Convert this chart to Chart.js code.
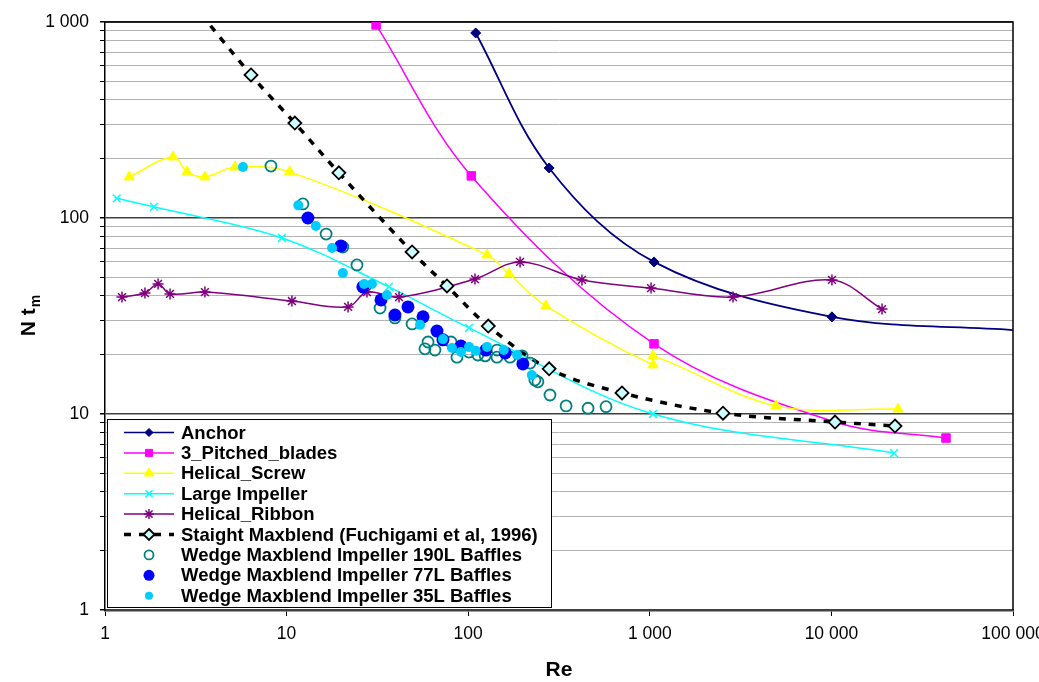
<!DOCTYPE html>
<html>
<head>
<meta charset="utf-8">
<title>N tm vs Re</title>
<script src="https://cdn.jsdelivr.net/npm/chart.js@4.4.0/dist/chart.umd.min.js"></script>
<style>
  html, body { margin: 0; padding: 0; background: #fff; overflow: hidden; }
  #wrap { width: 1039px; height: 682px; }
</style>
</head>
<body>
<div id="wrap"><canvas id="myChart" width="1039" height="682"></canvas></div>
<script>
// values (Re, N.tm)
const anchorRe = [110, 279, 1055, 10070, 100000];
const anchorNtm = [879, 180, 59.7, 31.3, 26.8];

const pitchedRe = [31.1, 104, 1055, 10470, 42750];
const pitchedNtm = [966, 164, 22.8, 9.1, 7.54];

const screwRe = [1.36, 2.37, 2.83, 3.55, 5.2, 10.4, 127, 168, 268, 1042, 1042, 4955, 23270];
const screwNtm = [162, 205, 172, 162, 182, 172, 64.8, 51.8, 35.6, 17.8, 19.8, 11.0, 10.6];

const largeRe = [1.16, 1.86, 9.43, 36.6, 101, 1042, 22130];
const largeNtm = [126, 114, 79.1, 44.5, 27.5, 10.0, 6.32];

const ribbonRe = [1.24, 1.66, 1.96, 2.28, 3.55, 10.7, 21.8, 27.7, 41.6, 109, 193, 423, 1016, 2872, 10070, 19000];
const ribbonNtm = [39.5, 41.4, 46.1, 41.0, 41.9, 37.7, 35.2, 41.9, 39.5, 48.8, 59.7, 48.3, 43.9, 39.5, 48.3, 34.3];

const straightRe = [2.1, 6.37, 11.1, 19.4, 49.1, 76.4, 129, 279, 703, 2530, 10470, 22400];
const straightNtm = [1900, 537, 305, 170, 67.1, 45.0, 28.1, 17.0, 12.8, 10.1, 9.1, 8.68];

const wedge190Re = [8.2, 12.3, 16.5, 20.4, 24.4, 32.7, 39.5, 49.1, 60.1, 57.8, 65.6, 80.4, 86.7, 101, 113, 124, 144, 144, 170, 198, 219, 233, 242, 282, 346, 457, 574];
const wedge190Ntm = [184, 118, 82.8, 71.1, 57.6, 34.7, 30.9, 28.8, 23.3, 21.5, 21.2, 23.3, 19.5, 20.7, 20.0, 19.8, 21.2, 19.5, 19.5, 19.8, 18.2, 14.9, 14.6, 12.5, 11.0, 10.7, 10.9];

const wedge77Re = [13.1, 19.9, 26.3, 33.1, 39.5, 46.6, 56.4, 67.3, 72.6, 91.2, 125, 160, 200];
const wedge77Ntm = [100, 72.0, 44.5, 38.2, 32.0, 35.2, 31.3, 26.5, 23.9, 22.2, 21.2, 20.5, 18.0];

const wedge35Re = [5.75, 11.6, 14.5, 17.8, 20.4, 26.7, 29.5, 35.7, 54.3, 72.6, 81.4, 91.2, 101, 110, 127, 157, 186, 224];
const wedge35Ntm = [182, 116, 91.0, 70.3, 52.4, 46.1, 46.1, 40.5, 28.5, 24.1, 21.7, 20.7, 22.0, 21.0, 22.0, 21.2, 20.0, 15.8];

const xTicks = [1, 10, 100, 1000, 10000, 100000];

const FONT = '"Liberation Sans", Arial, sans-serif';

function pts(xs, ys) {
  return xs.map((x, i) => ({ x: x, y: ys[i] }));
}

function fmt(v) {
  return String(Math.round(v)).replace(/\B(?=(\d{3})+(?!\d))/g, ' ');
}

function isDecade(v) {
  const l = Math.log10(v);
  return Math.abs(l - Math.round(l)) < 1e-9;
}

function drawMarker(ctx, style, x, y, r, fill, stroke, lw) {
  ctx.beginPath();
  if (style === 'circle') {
    ctx.arc(x, y, r, 0, Math.PI * 2);
  } else if (style === 'rect') {
    ctx.rect(x - r * 0.707, y - r * 0.707, r * 1.414, r * 1.414);
  } else if (style === 'rectRot') {
    ctx.moveTo(x, y - r); ctx.lineTo(x + r, y); ctx.lineTo(x, y + r); ctx.lineTo(x - r, y); ctx.closePath();
  } else if (style === 'triangle') {
    ctx.moveTo(x, y - r); ctx.lineTo(x + r * 0.866, y + r * 0.5); ctx.lineTo(x - r * 0.866, y + r * 0.5); ctx.closePath();
  } else {
    const d = r * 0.707;
    ctx.moveTo(x - d, y - d); ctx.lineTo(x + d, y + d);
    ctx.moveTo(x + d, y - d); ctx.lineTo(x - d, y + d);
    if (style === 'star') {
      ctx.moveTo(x, y - r); ctx.lineTo(x, y + r);
      ctx.moveTo(x - r, y); ctx.lineTo(x + r, y);
    }
  }
  if (fill && (style === 'circle' || style === 'rect' || style === 'rectRot' || style === 'triangle')) {
    ctx.fillStyle = fill;
    ctx.fill();
  }
  if (stroke && lw) {
    ctx.strokeStyle = stroke;
    ctx.lineWidth = lw;
    ctx.stroke();
  }
}

// legend box sitting inside the plot, bottom left
const boxLegend = {
  id: 'boxLegend',
  afterDatasetsDraw(chart) {
    const ctx = chart.ctx;
    ctx.save();
    ctx.fillStyle = '#fff';
    ctx.fillRect(107, 419, 444, 188);
    ctx.strokeStyle = '#000';
    ctx.lineWidth = 1;
    ctx.strokeRect(107.5, 419.5, 444, 188);
    chart.data.datasets.forEach((ds, i) => {
      const y = 432.5 + i * 20.4;
      if (ds.showLine !== false) {
        ctx.beginPath();
        ctx.strokeStyle = ds.borderColor;
        ctx.lineWidth = ds.borderDash ? 3.5 : 1.5;
        ctx.setLineDash(ds.borderDash || []);
        ctx.moveTo(124, y);
        ctx.lineTo(174, y);
        ctx.stroke();
        ctx.setLineDash([]);
      }
      drawMarker(ctx, ds.pointStyle, 149, y, ds.legendRadius, ds.pointBackgroundColor, ds.pointBorderColor, ds.pointBorderWidth);
      ctx.fillStyle = '#000';
      ctx.font = 'bold 18.5px ' + FONT;
      ctx.textAlign = 'left';
      ctx.textBaseline = 'middle';
      ctx.fillText(ds.label, 181, y + 1);
    });
    ctx.restore();
  }
};

// top/right frame of the plot area
const frame = {
  id: 'frame',
  beforeDatasetsDraw(chart) {
    const a = chart.chartArea;
    const ctx = chart.ctx;
    ctx.save();
    ctx.strokeStyle = '#000';
    ctx.lineWidth = 1.5;
    ctx.beginPath();
    ctx.moveTo(a.left, a.top);
    ctx.lineTo(a.right, a.top);
    ctx.lineTo(a.right, a.bottom);
    ctx.stroke();
    ctx.restore();
  }
};

// axis titles (with the subscript m)
const axisTitles = {
  id: 'axisTitles',
  afterDraw(chart) {
    const a = chart.chartArea;
    const ctx = chart.ctx;
    ctx.save();
    ctx.fillStyle = '#000';
    ctx.textBaseline = 'alphabetic';
    ctx.font = 'bold 21px ' + FONT;
    ctx.textAlign = 'center';
    ctx.fillText('Re', (a.left + a.right) / 2, 676);

    ctx.translate(35, (a.top + a.bottom) / 2);
    ctx.rotate(-Math.PI / 2);
    ctx.textAlign = 'left';
    const main = 'N t';
    const w1 = ctx.measureText(main).width;
    ctx.font = 'bold 14px ' + FONT;
    const w2 = ctx.measureText('m').width;
    const x0 = -(w1 + w2) / 2;
    ctx.font = 'bold 21px ' + FONT;
    ctx.fillText(main, x0, 0);
    ctx.font = 'bold 14px ' + FONT;
    ctx.fillText('m', x0 + w1 + 1, 5);
    ctx.restore();
  }
};

const datasets = [
  {
    label: 'Anchor', data: pts(anchorRe, anchorNtm),
    borderColor: '#000080', borderWidth: 1.8,
    pointStyle: 'rectRot', pointRadius: [5, 5, 5, 5, 0], legendRadius: 4,
    pointBackgroundColor: '#000080', pointBorderColor: '#000080', pointBorderWidth: 1
  },
  {
    label: '3_Pitched_blades', data: pts(pitchedRe, pitchedNtm),
    borderColor: '#FF00FF', borderWidth: 1.5,
    pointStyle: 'rect', pointRadius: [6, 6, 6, 0, 6], legendRadius: 5,
    pointBackgroundColor: '#FF00FF', pointBorderColor: '#FF00FF', pointBorderWidth: 1
  },
  {
    label: 'Helical_Screw', data: pts(screwRe, screwNtm),
    borderColor: '#FFFF00', borderWidth: 1.5,
    pointStyle: 'triangle', pointRadius: 6, legendRadius: 5.5,
    pointBackgroundColor: '#FFFF00', pointBorderColor: '#FFFF00', pointBorderWidth: 1
  },
  {
    label: 'Large Impeller', data: pts(largeRe, largeNtm),
    borderColor: '#00FFFF', borderWidth: 1.5,
    pointStyle: 'crossRot', pointRadius: 5.5, legendRadius: 5,
    pointBackgroundColor: '#00FFFF', pointBorderColor: '#00FFFF', pointBorderWidth: 1.5
  },
  {
    label: 'Helical_Ribbon', data: pts(ribbonRe, ribbonNtm),
    borderColor: '#800080', borderWidth: 1.5,
    pointStyle: 'star', pointRadius: 5.5, legendRadius: 5,
    pointBackgroundColor: '#800080', pointBorderColor: '#800080', pointBorderWidth: 1.5
  },
  {
    label: 'Staight Maxblend (Fuchigami et al, 1996)', data: pts(straightRe, straightNtm),
    borderColor: '#000000', borderWidth: 3.5, borderDash: [7, 8],
    pointStyle: 'rectRot', pointRadius: [0, 6.5, 6.5, 6.5, 6.5, 6.5, 6.5, 6.5, 6.5, 6.5, 6.5, 6.5], legendRadius: 5.5,
    pointBackgroundColor: '#CCFFFF', pointBorderColor: '#000000', pointBorderWidth: 1.8
  },
  {
    label: 'Wedge Maxblend Impeller 190L Baffles', data: pts(wedge190Re, wedge190Ntm),
    showLine: false,
    pointStyle: 'circle', pointRadius: 5.5, legendRadius: 4.5,
    pointBackgroundColor: 'rgba(0,0,0,0)', pointBorderColor: '#008080', pointBorderWidth: 1.8
  },
  {
    label: 'Wedge Maxblend Impeller 77L Baffles', data: pts(wedge77Re, wedge77Ntm),
    showLine: false,
    pointStyle: 'circle', pointRadius: 6.5, legendRadius: 5.5,
    pointBackgroundColor: '#0000FF', pointBorderColor: '#0000FF', pointBorderWidth: 0
  },
  {
    label: 'Wedge Maxblend Impeller 35L Baffles', data: pts(wedge35Re, wedge35Ntm),
    showLine: false,
    pointStyle: 'circle', pointRadius: 5, legendRadius: 4,
    pointBackgroundColor: '#00CCFF', pointBorderColor: '#00CCFF', pointBorderWidth: 0
  }
];

// later series are painted on top, like the original
datasets.forEach((ds, i) => { ds.order = datasets.length - i; ds.fill = false; ds.tension = 0.35; });

const ctx = document.getElementById('myChart');
new Chart(ctx, {
  type: 'line',
  data: { datasets: datasets },
  options: {
    responsive: false,
    animation: false,
    devicePixelRatio: 1,
    elements: { line: { capBezierPoints: false } },
    layout: { autoPadding: false, padding: { top: 22, right: 26, bottom: 0, left: 0 } },
    plugins: { legend: { display: false }, tooltip: { enabled: false } },
    scales: {
      x: {
        type: 'logarithmic', min: 1, max: 100000,
        afterBuildTicks: (s) => { s.ticks = xTicks.map(v => ({ value: v })); },
        afterFit: (s) => { s.height = 72; s.paddingLeft = 0; s.paddingRight = 0; },
        grid: { drawOnChartArea: false, drawTicks: true, tickLength: 6, tickColor: '#000' },
        border: { display: true, color: '#404040', width: 2.5 },
        ticks: {
          autoSkip: false, maxRotation: 0, padding: 8, color: '#000',
          font: { family: FONT, size: 17.5 },
          callback: (v) => fmt(v)
        }
      },
      y: {
        type: 'logarithmic', min: 1, max: 1000,
        afterBuildTicks: (s) => {
          const t = [];
          for (let d = 1; d < 1000; d *= 10) {
            for (let k = 1; k < 10; k++) t.push({ value: d * k });
          }
          t.push({ value: 1000 });
          s.ticks = t;
        },
        afterFit: (s) => { s.width = 105; s.paddingTop = 0; s.paddingBottom = 0; },
        grid: {
          drawTicks: true, tickLength: 5, tickColor: '#000',
          color: (c) => (c.tick && isDecade(c.tick.value)) ? '#404040' : '#b4b4b4',
          lineWidth: (c) => (c.tick && isDecade(c.tick.value)) ? 1.5 : 1
        },
        border: { display: true, color: '#000', width: 1.5 },
        ticks: {
          autoSkip: false, padding: 11, color: '#000',
          font: { family: FONT, size: 17.5 },
          callback: (v) => isDecade(v) ? fmt(v) : ''
        }
      }
    }
  },
  plugins: [frame, boxLegend, axisTitles]
});
</script>
</body>
</html>
